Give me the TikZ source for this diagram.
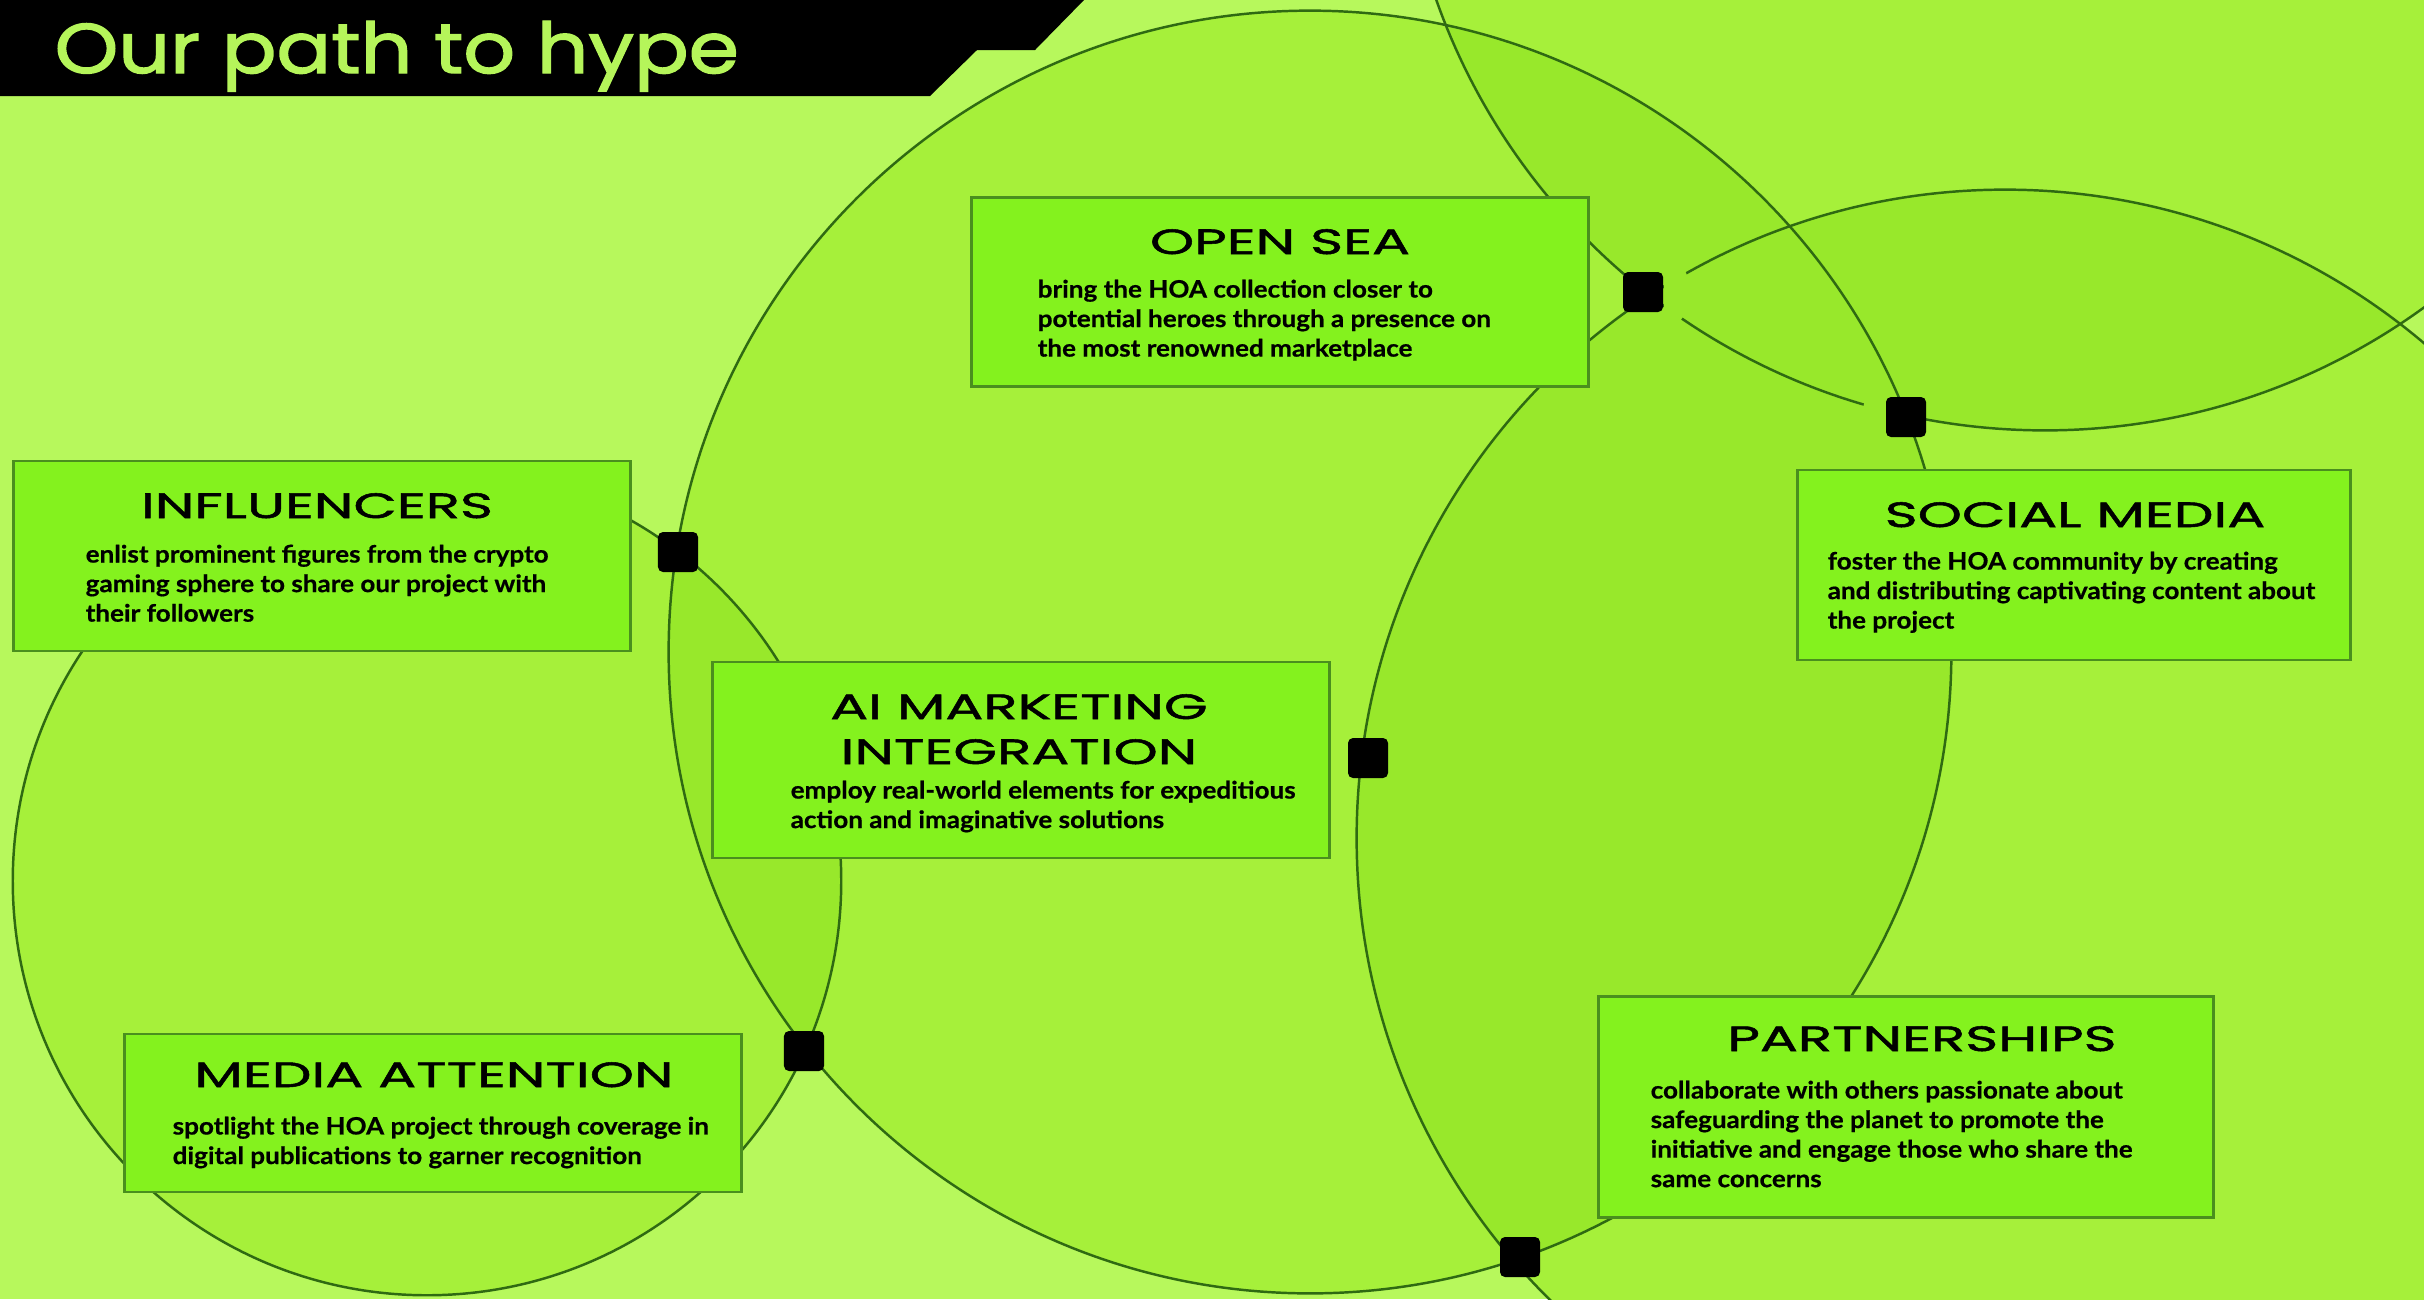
\documentclass[tikz,border=0pt]{standalone}
\usepackage{fontspec}
\usetikzlibrary{shapes.misc}
\newfontfamily\titlefont{Poppins}[FakeStretch=1.15,FakeBold=2]
\newfontfamily\headfont{Poppins}[FakeStretch=1.6,FakeBold=1.5]
\newfontfamily\bodyfont{Lato}[FakeStretch=1.09,BoldFeatures={FakeBold=0.6}]
\definecolor{bggreen}{HTML}{B7F85C}
\definecolor{onegreen}{HTML}{A6F03A}
\definecolor{twogreen}{HTML}{98E82B}
\definecolor{cardfill}{HTML}{84F21E}
\definecolor{cardline}{HTML}{4A8F1E}
\definecolor{ringline}{HTML}{2F6A12}
\definecolor{titlegreen}{HTML}{B5F55A}
\begin{document}
\begin{tikzpicture}[x=0.01cm,y=-0.01cm,
            ring/.style={draw=ringline,line width=0.7pt},
            card/.style={chamfered rectangle,chamfered rectangle xsep=0.1cm,
                chamfered rectangle ysep=0.1cm,draw=cardline,fill=cardfill,
                line width=0.8pt,inner sep=0pt},
            head/.style={anchor=base,inner sep=0pt,
                font=\headfont\fontsize{10}{12.8}\selectfont},
            body/.style={anchor=north west,inner sep=0pt,align=left,
                font=\bodyfont\bfseries\fontsize{6.8}{8.4}\selectfont},
            joint/.style={fill=black,rounded corners=0.05cm,minimum size=0.4cm,
                inner sep=0pt}]
    \useasboundingbox (0,0) rectangle (2424,1299);
    \clip (0,0) rectangle (2424,1299);
    \fill[bggreen] (0,0) rectangle (2424,1299);

    % circles
    \fill[onegreen] (1310,652) circle[radius=6.41cm];
    \fill[onegreen] (427,881) circle[radius=4.14cm];
    \fill[onegreen] (2005,838) circle[radius=6.48cm];
    \fill[onegreen] (2045,-215) circle[radius=6.45cm];
    \begin{scope}
        \clip (1310,652) circle[radius=6.41cm];
        \fill[twogreen] (427,881) circle[radius=4.14cm];
        \fill[twogreen] (2005,838) circle[radius=6.48cm];
        \fill[twogreen] (2045,-215) circle[radius=6.45cm];
    \end{scope}
    \begin{scope}
        \clip (2005,838) circle[radius=6.48cm];
        \fill[twogreen] (2045,-215) circle[radius=6.45cm];
    \end{scope}
    \draw[ring] (1310,652) circle[radius=6.41cm];
    \draw[ring] (427,881) circle[radius=4.14cm];
    \draw[ring] (2005,838) circle[radius=6.48cm];
    \draw[ring] (2045,-215) circle[radius=6.45cm];
    % gaps next to two joints
    \begin{scope}
        \clip (1664,230) rectangle (1720,350);
        \fill[twogreen] (1643,292) circle[radius=0.47cm];
    \end{scope}
    \begin{scope}
        \clip (1830,350) rectangle (1886,470);
        \fill[twogreen] (1906,417) circle[radius=0.44cm];
    \end{scope}

    % title
    \fill[black] (0,0) -- (1084,0) -- (1035,50) -- (977,50) -- (930,96) -- (0,96) -- cycle;
    \node[anchor=base west,inner sep=0pt,text=titlegreen,
        font=\titlefont\fontsize{20}{24}\selectfont] (title) at (54,73) {Our path to hype};

    % cards
    \node[card,minimum width=6.17cm,minimum height=1.89cm] (opensea) at (1280,292) {};
    \node[head] (openseah) at (1280,254) {OPEN SEA};
    \node[body] (openseab) at (1037,279) {bring the HOA collection closer to\\
        potential heroes through a presence on\\the most renowned marketplace};

    \node[card,minimum width=6.17cm,minimum height=1.90cm] (influ) at (322,556) {};
    \node[head] (influh) at (317,518) {INFLUENCERS};
    \node[body] (influb) at (85,544) {enlist prominent figures from the crypto\\
        gaming sphere to share our project with\\their followers};

    \node[card,minimum width=6.17cm,minimum height=1.96cm] (aimkt) at (1021,760) {};
    \node[head] (aimkth) at (1019,719) {AI MARKETING};
    \node[head] (aimkti) at (1019,764) {INTEGRATION};
    \node[body] (aimktb) at (790,780) {employ real-world elements for expeditious\\
        action and imaginative solutions};

    \node[card,minimum width=5.52cm,minimum height=1.90cm] (social) at (2074,565) {};
    \node[head] (socialh) at (2075,527) {SOCIAL MEDIA};
    \node[body] (socialb) at (1827,551) {foster the HOA community by creating\\
        and distributing captivating content about\\the project};

    \node[card,minimum width=6.17cm,minimum height=1.58cm] (media) at (433,1113) {};
    \node[head] (mediah) at (434,1087) {MEDIA ATTENTION};
    \node[body] (mediab) at (172,1116) {spotlight the HOA project through coverage in\\
        digital publications to garner recognition};

    \node[card,minimum width=6.15cm,minimum height=2.21cm] (partner) at (1906,1107) {};
    \node[head] (partnerh) at (1922,1051) {PARTNERSHIPS};
    \node[body] (partnerb) at (1650,1080) {collaborate with others passionate about\\
        safeguarding the planet to promote the\\initiative and engage those who share the\\
        same concerns};

    % joints
    \node[joint] (j1) at (678,552) {};
    \node[joint] (j2) at (804,1051) {};
    \node[joint] (j3) at (1368,758) {};
    \node[joint] (j4) at (1643,292) {};
    \node[joint] (j5) at (1906,417) {};
    \node[joint] (j6) at (1520,1257) {};
\end{tikzpicture}
\end{document}
